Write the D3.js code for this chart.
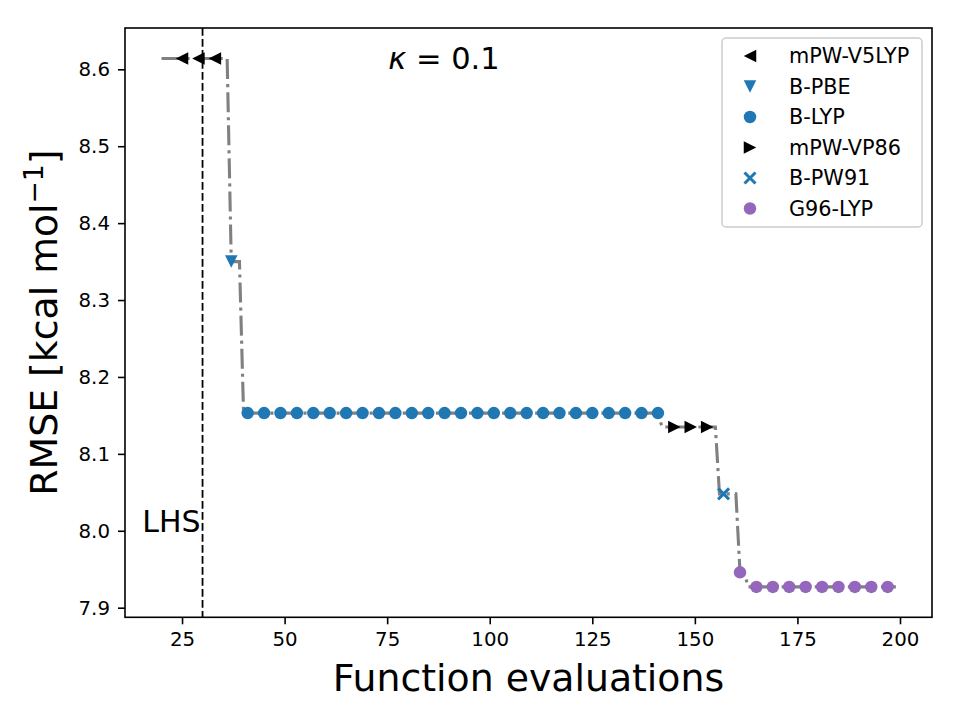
<!DOCTYPE html>
<html>
<head>
<meta charset="utf-8">
<script src="https://cdn.jsdelivr.net/npm/d3@7"></script>
<style>
  body { margin: 0; background: #fff; }
  svg text { font-family: "DejaVu Sans", sans-serif; }
</style>
</head>
<body>
<div id="viz"></div>
<script>
// tick labels
var xTicks = [25, 50, 75, 100, 125, 150, 175, 200];
var yTicks = [7.9, 8.0, 8.1, 8.2, 8.3, 8.4, 8.5, 8.6];

// best-so-far line (vertices)
var lineX = [20, 36, 37, 39, 40, 141, 142, 155, 156, 160, 161, 162, 163, 199];
var lineY = [8.614, 8.614, 8.35, 8.35, 8.153, 8.153, 8.135, 8.135, 8.048, 8.048, 7.946, 7.946, 7.927, 7.927];

// marker series
var seriesNames = ['mPW-V5LYP', 'B-PBE', 'B-LYP', 'mPW-VP86', 'B-PW91', 'G96-LYP'];
var v5lypX = [25, 29, 33];
var v5lypY = [8.614, 8.614, 8.614];
var pbeX = [37];
var pbeY = [8.35];
var blypX = [41, 45, 49, 53, 57, 61, 65, 69, 73, 77, 81, 85, 89, 93, 97, 101, 105, 109, 113, 117, 121, 125, 129, 133, 137, 141];
var blypY = [8.153, 8.153, 8.153, 8.153, 8.153, 8.153, 8.153, 8.153, 8.153, 8.153, 8.153, 8.153, 8.153,
             8.153, 8.153, 8.153, 8.153, 8.153, 8.153, 8.153, 8.153, 8.153, 8.153, 8.153, 8.153, 8.153];
var vp86X = [145, 149, 153];
var vp86Y = [8.135, 8.135, 8.135];
var pw91X = [157];
var pw91Y = [8.048];
var g96X = [161, 165, 169, 173, 177, 181, 185, 189, 193, 197];
var g96Y = [7.946, 7.927, 7.927, 7.927, 7.927, 7.927, 7.927, 7.927, 7.927, 7.927];

var lhsX = 30;

// marker shapes (centered on 0,0), matplotlib style with size 12.5px
var s = 6.25;
var shapes = {
  left: 'M' + (-s) + ',0L' + s + ',' + (-s) + 'L' + s + ',' + s + 'Z',
  right: 'M' + s + ',0L' + (-s) + ',' + (-s) + 'L' + (-s) + ',' + s + 'Z',
  down: 'M0,' + s + 'L' + (-s) + ',' + (-s) + 'L' + s + ',' + (-s) + 'Z',
  circle: d3.symbol().type(d3.symbolCircle).size(Math.PI * s * s)(),
  cross: 'M-5.5,-5.5L5.5,5.5M-5.5,5.5L5.5,-5.5'
};

var series = [
  { name: seriesNames[0], xs: v5lypX, ys: v5lypY, shape: 'left', color: '#000000' },
  { name: seriesNames[1], xs: pbeX, ys: pbeY, shape: 'down', color: '#1f77b4' },
  { name: seriesNames[2], xs: blypX, ys: blypY, shape: 'circle', color: '#1f77b4' },
  { name: seriesNames[3], xs: vp86X, ys: vp86Y, shape: 'right', color: '#000000' },
  { name: seriesNames[4], xs: pw91X, ys: pw91Y, shape: 'cross', color: '#1f77b4' },
  { name: seriesNames[5], xs: g96X, ys: g96Y, shape: 'circle', color: '#9467bd' }
];

// plot area
var pLeft = 125, pRight = 932, pTop = 28, pBottom = 617.3;

var svg = d3.select('#viz').append('svg')
  .attr('width', 960)
  .attr('height', 720);

var x = d3.scaleLinear().domain([11.1, 207.8]).range([pLeft, pRight]);
var y = d3.scaleLinear().domain([7.8875, 8.6537]).range([pBottom, pTop]);

// axes
var xAxis = svg.append('g')
  .attr('transform', 'translate(0,' + pBottom + ')')
  .call(d3.axisBottom(x).tickValues(xTicks).tickSize(7).tickPadding(8).tickFormat(d3.format('d')));
var yAxis = svg.append('g')
  .attr('transform', 'translate(' + pLeft + ',0)')
  .call(d3.axisLeft(y).tickValues(yTicks).tickSize(7).tickPadding(8).tickFormat(d3.format('.1f')));

[xAxis, yAxis].forEach(function (a) {
  a.select('.domain').remove();
  a.selectAll('line').attr('stroke', '#000').attr('stroke-width', 1.6);
  a.selectAll('text').attr('fill', '#000').style('font-size', '19.8px');
});

// clip for the plot contents
svg.append('clipPath').attr('id', 'clip')
  .append('rect').attr('x', pLeft).attr('y', pTop).attr('width', pRight - pLeft).attr('height', pBottom - pTop);

var plot = svg.append('g').attr('clip-path', 'url(#clip)');

// gray dash-dot step line
var pts = lineX.map(function (d, i) { return [d, lineY[i]]; });
plot.append('path')
  .datum(pts)
  .attr('d', d3.line().x(function (d) { return x(d[0]); }).y(function (d) { return y(d[1]); }))
  .attr('fill', 'none')
  .attr('stroke', '#808080')
  .attr('stroke-width', 3.1)
  .attr('stroke-dasharray', '20,5,3.1,5');

// markers
series.forEach(function (sr) {
  var g = plot.append('g');
  g.selectAll('path')
    .data(sr.xs.map(function (d, i) { return [d, sr.ys[i]]; }))
    .enter()
    .append('path')
    .attr('transform', function (d) { return 'translate(' + x(d[0]) + ',' + y(d[1]) + ')'; })
    .attr('d', shapes[sr.shape])
    .attr('fill', sr.shape === 'cross' ? 'none' : sr.color)
    .attr('stroke', sr.shape === 'cross' ? sr.color : 'none')
    .attr('stroke-width', 3);
});

// LHS dashed line
plot.append('line')
  .attr('x1', x(lhsX)).attr('x2', x(lhsX))
  .attr('y1', pTop).attr('y2', pBottom)
  .attr('stroke', '#000')
  .attr('stroke-width', 1.8)
  .attr('stroke-dasharray', '7.7,3.3');

// frame
svg.append('rect')
  .attr('x', pLeft).attr('y', pTop)
  .attr('width', pRight - pLeft).attr('height', pBottom - pTop)
  .attr('fill', 'none')
  .attr('stroke', '#000')
  .attr('stroke-width', 1.6);

// annotations
svg.append('text')
  .attr('x', x(lhsX) - 2).attr('y', 532)
  .attr('text-anchor', 'end')
  .style('font-size', '30px')
  .text('LHS');

var kap = svg.append('text')
  .attr('x', 444).attr('y', 69)
  .attr('text-anchor', 'middle')
  .style('font-size', '30.5px');
kap.append('tspan').style('font-style', 'italic').text('κ');
kap.append('tspan').text(' = 0.1');

// axis labels
svg.append('text')
  .attr('x', (pLeft + pRight) / 2).attr('y', 691)
  .attr('text-anchor', 'middle')
  .style('font-size', '37.8px')
  .text('Function evaluations');

var yl = svg.append('text')
  .attr('transform', 'translate(57,' + (pTop + pBottom) / 2 + ') rotate(-90)')
  .attr('text-anchor', 'middle')
  .style('font-size', '37.8px');
yl.append('tspan').text('RMSE [kcal mol');
yl.append('tspan').attr('dy', -14).style('font-size', '26.5px').text('−1');
yl.append('tspan').attr('dy', 14).text(']');

// legend
var legend = svg.append('g');
legend.append('rect')
  .attr('x', 722).attr('y', 38)
  .attr('width', 200).attr('height', 189)
  .attr('rx', 4)
  .attr('fill', '#fff').attr('fill-opacity', 0.8)
  .attr('stroke', '#cccccc').attr('stroke-width', 1.5);

series.forEach(function (sr, i) {
  var ly = 56 + i * 30.5;
  legend.append('path')
    .attr('transform', 'translate(750,' + ly + ')')
    .attr('d', shapes[sr.shape])
    .attr('fill', sr.shape === 'cross' ? 'none' : sr.color)
    .attr('stroke', sr.shape === 'cross' ? sr.color : 'none')
    .attr('stroke-width', 3);
  legend.append('text')
    .attr('x', 789).attr('y', ly)
    .attr('dy', '0.36em')
    .style('font-size', '20.8px')
    .text(sr.name);
});
</script>
</body>
</html>
